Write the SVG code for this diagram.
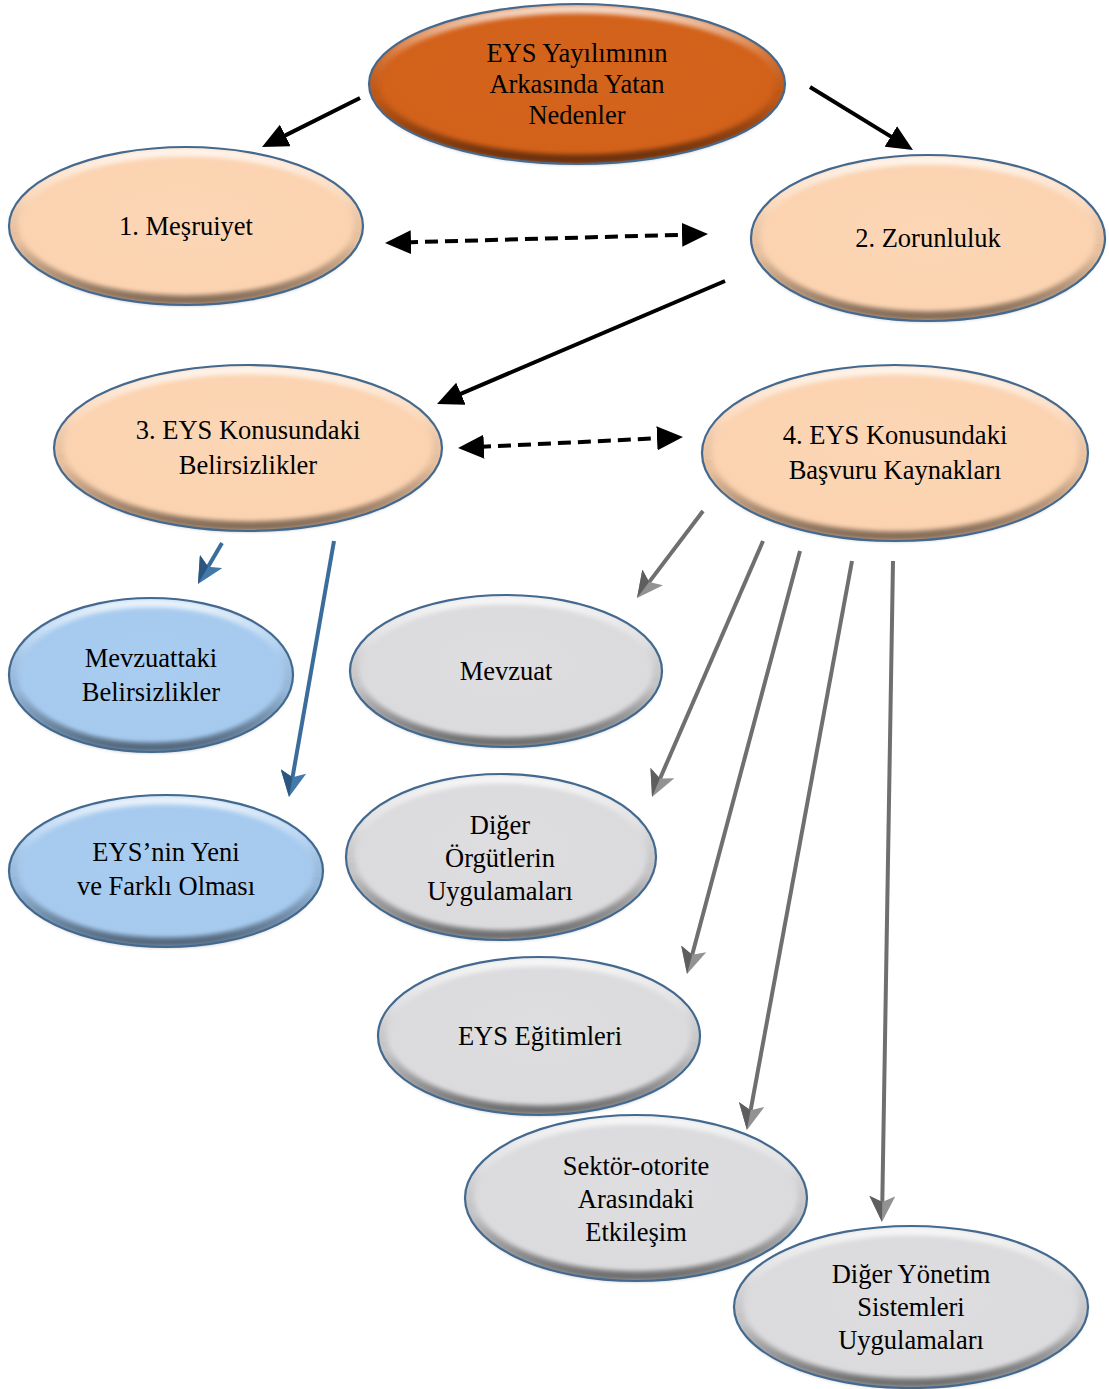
<svg xmlns="http://www.w3.org/2000/svg" width="1109" height="1389" viewBox="0 0 1109 1389">
  <defs>
    <style>
      .lbl { font-family: "Liberation Serif", "Times New Roman", serif; font-size: 26.5px; fill: #000; text-anchor: middle; }
      .rim { fill: none; stroke: #44698f; stroke-width: 2.2; }
      .bevel { fill: none; stroke: url(#bevelGrad); stroke-width: 9; filter: url(#soft); }
      .orange { fill: url(#gOrange); }
      .peach { fill: url(#gPeach); }
      .blue { fill: url(#gBlue); }
      .grey { fill: url(#gGrey); }
      .black-arrow { stroke: #000; stroke-width: 4; fill: none; marker-end: url(#headBlack); }
      .dash-arrow { stroke: #000; stroke-width: 4; fill: none; stroke-dasharray: 13 7; marker-start: url(#headBlackStart); marker-end: url(#headBlack); }
      .blue-arrow { stroke: #3a6c9c; stroke-width: 4; fill: none; marker-end: url(#headBlue); }
      .grey-arrow { stroke: #6f6f6f; stroke-width: 4; fill: none; marker-end: url(#headGrey); }
    </style>
    <radialGradient id="gOrange" cx="0.5" cy="0.45" r="0.55">
      <stop offset="0" stop-color="#d4651d"/>
      <stop offset="0.85" stop-color="#d2611a"/>
      <stop offset="1" stop-color="#b95416"/>
    </radialGradient>
    <radialGradient id="gPeach" cx="0.5" cy="0.45" r="0.55">
      <stop offset="0" stop-color="#fcd6b5"/>
      <stop offset="0.85" stop-color="#fbd3b1"/>
      <stop offset="1" stop-color="#e8bd97"/>
    </radialGradient>
    <radialGradient id="gBlue" cx="0.5" cy="0.45" r="0.55">
      <stop offset="0" stop-color="#a9cdf1"/>
      <stop offset="0.85" stop-color="#a6caee"/>
      <stop offset="1" stop-color="#8fb3d8"/>
    </radialGradient>
    <radialGradient id="gGrey" cx="0.5" cy="0.45" r="0.55">
      <stop offset="0" stop-color="#dedddf"/>
      <stop offset="0.85" stop-color="#dbdadc"/>
      <stop offset="1" stop-color="#bdbcbe"/>
    </radialGradient>
    <linearGradient id="bevelGrad" x1="0" y1="0" x2="0" y2="1">
      <stop offset="0" stop-color="#ffffff" stop-opacity="0.75"/>
      <stop offset="0.3" stop-color="#ffffff" stop-opacity="0.15"/>
      <stop offset="0.6" stop-color="#000000" stop-opacity="0.05"/>
      <stop offset="1" stop-color="#000000" stop-opacity="0.45"/>
    </linearGradient>
    <filter id="soft" x="-5%" y="-5%" width="110%" height="110%">
      <feGaussianBlur stdDeviation="2"/>
    </filter>
    <marker id="headBlack" markerUnits="userSpaceOnUse" markerWidth="26" markerHeight="24" refX="6" refY="12" orient="auto">
      <path d="M0,0 L26,12 L0,24 Z" fill="#000"/>
    </marker>
    <marker id="headBlackStart" markerUnits="userSpaceOnUse" markerWidth="26" markerHeight="24" refX="6" refY="12" orient="auto-start-reverse">
      <path d="M0,0 L26,12 L0,24 Z" fill="#000"/>
    </marker>
    <marker id="headBlue" markerUnits="userSpaceOnUse" markerWidth="26" markerHeight="26" refX="6" refY="13" orient="auto">
      <path d="M0,0 L26,13 L0,26 L6,13 Z" fill="#4378ab"/>
      <path d="M6,13 L26,13 L0,26 Z" fill="#2c5680"/>
    </marker>
    <marker id="headGrey" markerUnits="userSpaceOnUse" markerWidth="26" markerHeight="26" refX="6" refY="13" orient="auto">
      <path d="M0,0 L26,13 L0,26 L6,13 Z" fill="#929292"/>
      <path d="M6,13 L26,13 L0,26 Z" fill="#5e5e5e"/>
    </marker>
  </defs>

  <rect width="1109" height="1389" fill="#ffffff"/>

  <!-- connectors -->
  <g id="connectors">
    <path class="black-arrow" d="M360,98 L279.9,138.1"/>
    <path class="black-arrow" d="M810,87 L895.9,139.6"/>
    <path class="black-arrow" d="M725,281 L455.4,396.1"/>
    <path class="dash-arrow" d="M405,242.4 L688,234.6"/>
    <path class="dash-arrow" d="M478,447 L663,438"/>
    <path class="blue-arrow" d="M222,543 L208.1,566.7"/>
    <path class="blue-arrow" d="M334,541 L292.5,777.3"/>
    <path class="grey-arrow" d="M703,511 L649.1,582.1"/>
    <path class="grey-arrow" d="M763,541 L660,778.6"/>
    <path class="grey-arrow" d="M800,551 L692.2,954.7"/>
    <path class="grey-arrow" d="M852,561 L750.6,1110.3"/>
    <path class="grey-arrow" d="M893,561 L882.3,1202"/>
  </g>

  <g id="node-root">
    <ellipse class="orange" cx="577" cy="84" rx="208" ry="80"/>
    <ellipse class="bevel" cx="577" cy="84" rx="203" ry="75"/>
    <ellipse class="rim" cx="577" cy="84" rx="208" ry="80"/>
    <text class="lbl" x="577" y="62">EYS Yayılımının</text>
    <text class="lbl" x="577" y="93">Arkasında Yatan</text>
    <text class="lbl" x="577" y="124">Nedenler</text>
  </g>

  <g id="node-mesruiyet">
    <ellipse class="peach" cx="186" cy="226" rx="177" ry="79"/>
    <ellipse class="bevel" cx="186" cy="226" rx="172" ry="74"/>
    <ellipse class="rim" cx="186" cy="226" rx="177" ry="79"/>
    <text class="lbl" x="186" y="235">1. Meşruiyet</text>
  </g>

  <g id="node-zorunluluk">
    <ellipse class="peach" cx="928" cy="238" rx="177" ry="83"/>
    <ellipse class="bevel" cx="928" cy="238" rx="172" ry="78"/>
    <ellipse class="rim" cx="928" cy="238" rx="177" ry="83"/>
    <text class="lbl" x="928" y="247">2. Zorunluluk</text>
  </g>

  <g id="node-belirsizlikler">
    <ellipse class="peach" cx="248" cy="448" rx="194" ry="83"/>
    <ellipse class="bevel" cx="248" cy="448" rx="189" ry="78"/>
    <ellipse class="rim" cx="248" cy="448" rx="194" ry="83"/>
    <text class="lbl" x="248" y="439">3. EYS Konusundaki</text>
    <text class="lbl" x="248" y="474">Belirsizlikler</text>
  </g>

  <g id="node-kaynaklar">
    <ellipse class="peach" cx="895" cy="453" rx="193" ry="88"/>
    <ellipse class="bevel" cx="895" cy="453" rx="188" ry="83"/>
    <ellipse class="rim" cx="895" cy="453" rx="193" ry="88"/>
    <text class="lbl" x="895" y="444">4. EYS Konusundaki</text>
    <text class="lbl" x="895" y="479">Başvuru Kaynakları</text>
  </g>

  <g id="node-mevzuattaki">
    <ellipse class="blue" cx="151" cy="675" rx="142" ry="77"/>
    <ellipse class="bevel" cx="151" cy="675" rx="137" ry="72"/>
    <ellipse class="rim" cx="151" cy="675" rx="142" ry="77"/>
    <text class="lbl" x="151" y="667">Mevzuattaki</text>
    <text class="lbl" x="151" y="701">Belirsizlikler</text>
  </g>

  <g id="node-yeni">
    <ellipse class="blue" cx="166" cy="871" rx="157" ry="76"/>
    <ellipse class="bevel" cx="166" cy="871" rx="152" ry="71"/>
    <ellipse class="rim" cx="166" cy="871" rx="157" ry="76"/>
    <text class="lbl" x="166" y="861">EYS’nin Yeni</text>
    <text class="lbl" x="166" y="895">ve Farklı Olması</text>
  </g>

  <g id="node-mevzuat">
    <ellipse class="grey" cx="506" cy="671" rx="156" ry="76"/>
    <ellipse class="bevel" cx="506" cy="671" rx="151" ry="71"/>
    <ellipse class="rim" cx="506" cy="671" rx="156" ry="76"/>
    <text class="lbl" x="506" y="680">Mevzuat</text>
  </g>

  <g id="node-orgutler">
    <ellipse class="grey" cx="501" cy="857" rx="155" ry="83"/>
    <ellipse class="bevel" cx="501" cy="857" rx="150" ry="78"/>
    <ellipse class="rim" cx="501" cy="857" rx="155" ry="83"/>
    <text class="lbl" x="500" y="834">Diğer</text>
    <text class="lbl" x="500" y="867">Örgütlerin</text>
    <text class="lbl" x="500" y="900">Uygulamaları</text>
  </g>

  <g id="node-egitimler">
    <ellipse class="grey" cx="539" cy="1036" rx="161" ry="79"/>
    <ellipse class="bevel" cx="539" cy="1036" rx="156" ry="74"/>
    <ellipse class="rim" cx="539" cy="1036" rx="161" ry="79"/>
    <text class="lbl" x="540" y="1045">EYS Eğitimleri</text>
  </g>

  <g id="node-sektor">
    <ellipse class="grey" cx="636" cy="1198" rx="171" ry="83"/>
    <ellipse class="bevel" cx="636" cy="1198" rx="166" ry="78"/>
    <ellipse class="rim" cx="636" cy="1198" rx="171" ry="83"/>
    <text class="lbl" x="636" y="1175">Sektör-otorite</text>
    <text class="lbl" x="636" y="1208">Arasındaki</text>
    <text class="lbl" x="636" y="1241">Etkileşim</text>
  </g>

  <g id="node-yonetim">
    <ellipse class="grey" cx="911" cy="1307" rx="177" ry="81"/>
    <ellipse class="bevel" cx="911" cy="1307" rx="172" ry="76"/>
    <ellipse class="rim" cx="911" cy="1307" rx="177" ry="81"/>
    <text class="lbl" x="911" y="1283">Diğer Yönetim</text>
    <text class="lbl" x="911" y="1316">Sistemleri</text>
    <text class="lbl" x="911" y="1349">Uygulamaları</text>
  </g>
</svg>
